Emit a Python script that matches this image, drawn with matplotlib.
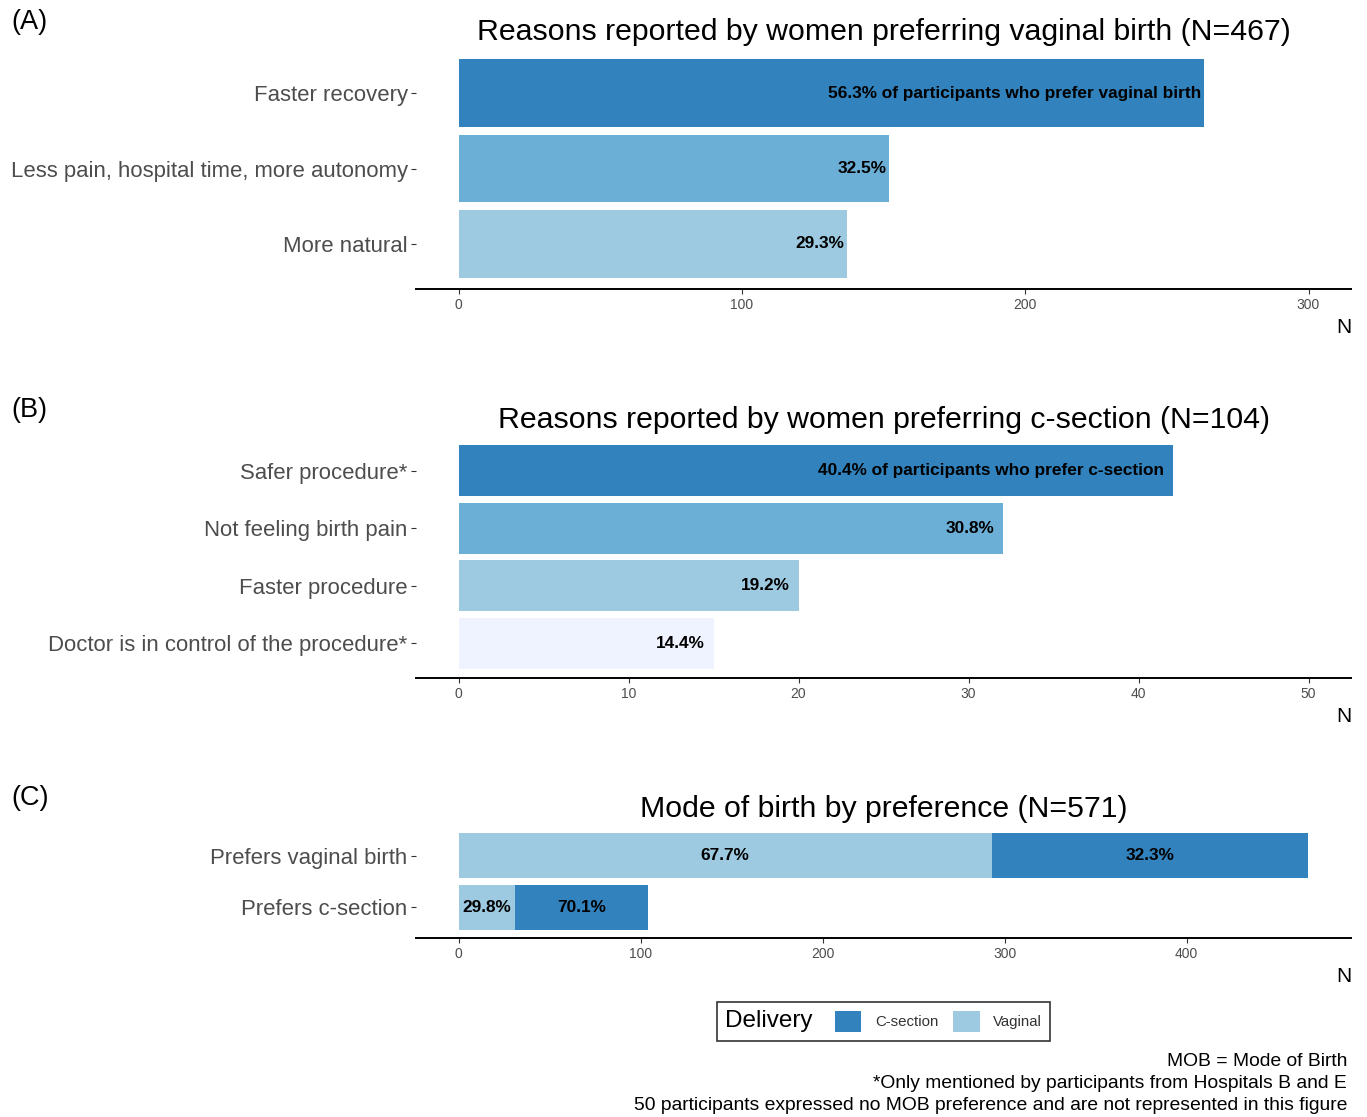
import matplotlib
matplotlib.use("Agg")
import matplotlib.pyplot as plt
from matplotlib.patches import Patch
from matplotlib.offsetbox import HPacker

plt.rcParams['font.family'] = ['Liberation Sans', 'DejaVu Sans']

# ---------------- data ----------------
a_title = "Reasons reported by women preferring vaginal birth (N=467)"
a_cats = ["Faster recovery", "Less pain, hospital time, more autonomy", "More natural"]
a_vals = [263, 152, 137]
a_labels = ["56.3% of participants who prefer vaginal birth", "32.5%", "29.3%"]
a_ticks = [0, 100, 200, 300]

b_title = "Reasons reported by women preferring c-section (N=104)"
b_cats = ["Safer procedure*", "Not feeling birth pain", "Faster procedure",
          "Doctor is in control of the procedure*"]
b_vals = [42, 32, 20, 15]
b_labels = ["40.4% of participants who prefer c-section", "30.8%", "19.2%", "14.4%"]
b_ticks = [0, 10, 20, 30, 40, 50]

c_title = "Mode of birth by preference (N=571)"
c_cats = ["Prefers vaginal birth", "Prefers c-section"]
c_vaginal = [293, 31]
c_csection = [174, 73]
c_vag_labels = ["67.7%", "29.8%"]
c_cs_labels = ["32.3%", "70.1%"]
c_ticks = [0, 100, 200, 300, 400]

notes = ["MOB = Mode of Birth",
         "*Only mentioned by participants from Hospitals B and E",
         "50 participants expressed no MOB preference and are not represented in this figure"]

# ---------------- style ----------------
DARK = "#3182BD"
MID = "#6BAED6"
LIGHT = "#9ECAE1"
PALE = "#EFF3FF"

W, H = 1367, 1117
fig = plt.figure(figsize=(W / 100, H / 100), dpi=100)


def fy(px):
    return 1 - px / H


def make_ax(top_px, bottom_px):
    left = 416 / W
    right = 1351 / W
    return fig.add_axes([left, fy(bottom_px), right - left, (bottom_px - top_px) / H])


def style_ax(ax, n, ticks, xlim, title):
    ax.set_ylim(-0.6, n - 0.4)
    ax.set_xlim(*xlim)
    ax.set_xticks(ticks)
    ax.set_xticklabels([str(t) for t in ticks])
    for s in ["top", "right", "left"]:
        ax.spines[s].set_visible(False)
    ax.spines["bottom"].set_linewidth(1.4)
    ax.spines["bottom"].set_color("black")
    ax.tick_params(axis="x", length=3.5, width=0.8, color="#333333", labelsize=10,
                   labelcolor="#4d4d4d", pad=3)
    ax.tick_params(axis="y", length=3.5, width=0.8, color="#333333", labelsize=15.9,
                   labelcolor="#4d4d4d", pad=2.5)
    ax.set_xlabel("N", loc="right", fontsize=15, labelpad=4)
    ax.set_title(title, fontsize=21.8, pad=6)


# Panel A
axA = make_ax(48, 289)
nA = len(a_cats)
yA = [nA - 1 - i for i in range(nA)]
axA.barh(yA, a_vals, height=0.9, color=[DARK, MID, LIGHT])
for y, v, lab in zip(yA, a_vals, a_labels):
    axA.annotate(lab, (v, y), xytext=(-2, 0), textcoords="offset points",
                 ha="right", va="center", fontsize=12.4, fontweight="bold")
axA.set_yticks(yA)
axA.set_yticklabels(a_cats)
style_ax(axA, nA, a_ticks, (-15, 315), a_title)

# Panel B
axB = make_ax(436, 678)
nB = len(b_cats)
yB = [nB - 1 - i for i in range(nB)]
axB.barh(yB, b_vals, height=0.88, color=[DARK, MID, LIGHT, PALE])
for y, v, lab in zip(yB, b_vals, b_labels):
    axB.annotate(lab, (v, y), xytext=(-6, 0), textcoords="offset points",
                 ha="right", va="center", fontsize=12.4, fontweight="bold")
axB.set_yticks(yB)
axB.set_yticklabels(b_cats)
style_ax(axB, nB, b_ticks, (-2.5, 52.5), b_title)

# Panel C
axC = make_ax(825, 938)
nC = len(c_cats)
yC = [nC - 1 - i for i in range(nC)]
axC.barh(yC, c_vaginal, height=0.88, color=LIGHT, label="Vaginal")
axC.barh(yC, c_csection, left=c_vaginal, height=0.88, color=DARK, label="C-section")
for y, v, c, lv, lc in zip(yC, c_vaginal, c_csection, c_vag_labels, c_cs_labels):
    axC.text(v / 2, y, lv, ha="center", va="center", fontsize=12.4, fontweight="bold")
    axC.text(v + c / 2, y, lc, ha="center", va="center", fontsize=12.4, fontweight="bold")
axC.set_yticks(yC)
axC.set_yticklabels(c_cats)
totalC = max(a + b for a, b in zip(c_vaginal, c_csection))
style_ax(axC, nC, c_ticks, (-0.05 * totalC, 1.05 * totalC), c_title)

# Panel letters
for lab, ypx in [("(A)", 22), ("(B)", 410), ("(C)", 798)]:
    fig.text(11 / W, fy(ypx), lab, fontsize=19.5, va="center", ha="left")

# Legend (title placed to the left of the keys)
handles = [Patch(facecolor=DARK), Patch(facecolor=LIGHT)]
leg = fig.legend(handles, ["C-section", "Vaginal"], title="Delivery", ncol=2,
                 loc="center", bbox_to_anchor=(883.5 / W, fy(1021.5)),
                 frameon=True, fancybox=False, edgecolor="black",
                 fontsize=10.8, title_fontsize=17.5, handlelength=1.75, handleheight=1.75,
                 handletextpad=0.9, columnspacing=1.0, borderpad=0.55,
                 borderaxespad=0)
leg.get_frame().set_linewidth(1.2)
for t in leg.get_texts():
    t.set_color("#333333")
fs = leg._fontsize
children = leg._legend_box.get_children()
leg._legend_box = HPacker(pad=leg.borderpad * fs, sep=1.5 * fs, align="center",
                          children=children)
leg._legend_box.set_figure(fig)
leg._legend_box.axes = leg.axes
leg._set_loc(leg._loc)

# Notes
for txt, ypx in zip(notes, [1062, 1084, 1106]):
    fig.text(1347 / W, fy(ypx), txt, fontsize=13.9, ha="right", va="center")

fig.savefig("out.png", dpi=100)
